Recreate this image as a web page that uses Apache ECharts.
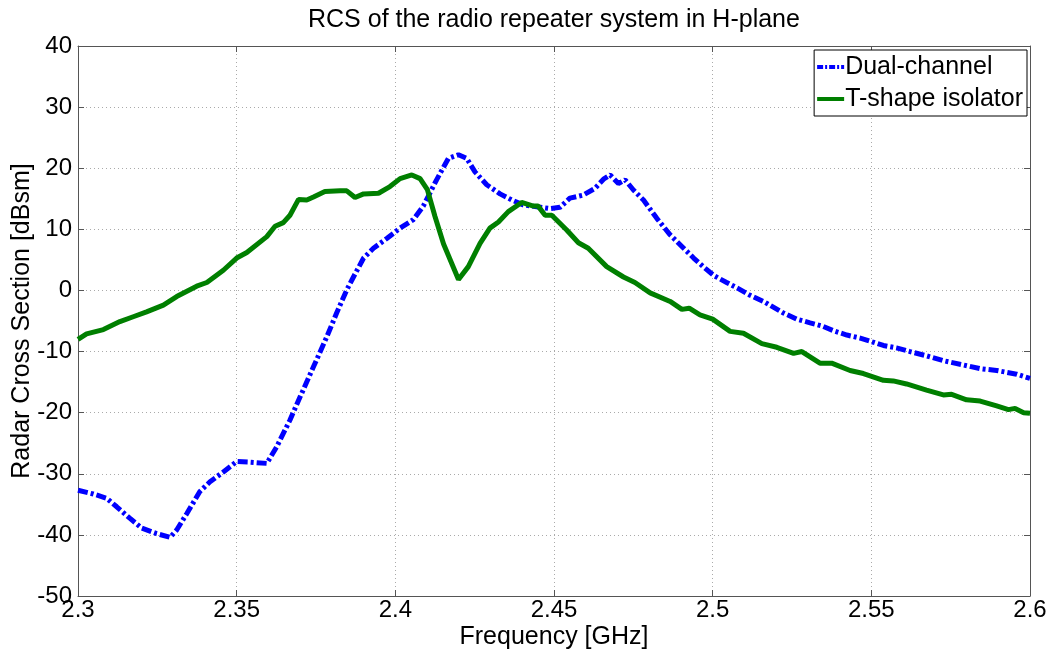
<!DOCTYPE html>
<html>
<head>
<meta charset="utf-8">
<title>RCS of the radio repeater system in H-plane</title>
<script src="https://cdn.jsdelivr.net/npm/echarts@6/dist/echarts.min.js"></script>
<style>
  html, body { margin: 0; padding: 0; background: #fff; }
  #chart { width: 1053px; height: 653px; }
</style>
</head>
<body>
<div id="chart"></div>
<script>
// Frequency sweep (GHz) and RCS (dBsm) for the dual-channel repeater
const freqDual = [
  2.300, 2.3048, 2.309, 2.3122, 2.3164, 2.3201, 2.3248, 2.329, 2.3311, 2.3343,
  2.3384, 2.3416, 2.3458, 2.350, 2.3542, 2.3595, 2.3626, 2.3668, 2.370, 2.3742,
  2.3784, 2.3815, 2.3847, 2.3868, 2.390, 2.3931, 2.3973, 2.4015, 2.4057, 2.4088,
  2.413, 2.4167, 2.4199, 2.4225, 2.4251, 2.4288, 2.433, 2.4367, 2.4403, 2.4445,
  2.4487, 2.4519, 2.455, 2.4592, 2.4629, 2.4656, 2.4677, 2.4703, 2.4724, 2.4751,
  2.4782, 2.4824, 2.4866, 2.4903, 2.494, 2.497, 2.5005, 2.5044, 2.5081, 2.5118,
  2.516, 2.5223, 2.5265, 2.5307, 2.5344, 2.5381, 2.5423, 2.5465, 2.5502, 2.5538,
  2.5579, 2.5622, 2.5674, 2.5727, 2.579, 2.5843, 2.5895, 2.5958, 2.600
];
const rcsDual = [
  -32.7, -33.3, -34.0, -35.4, -37.3, -38.9, -39.8, -40.4, -39.2, -36.5,
  -32.9, -31.3, -29.7, -28.0, -28.1, -28.3, -25.6, -21.2, -17.4, -12.5,
  -7.6, -3.7, 0.1, 2.2, 5.3, 6.9, 8.5, 10.2, 11.6, 13.8,
  18.1, 21.6, 22.2, 21.6, 19.4, 17.3, 15.8, 14.8, 14.0, 13.7,
  13.4, 13.6, 15.1, 15.6, 16.7, 18.2, 18.9, 17.5, 18.1, 16.4,
  14.8, 11.8, 9.1, 7.2, 5.3, 3.9, 2.4, 1.3, 0.3, -0.8,
  -1.8, -3.7, -4.7, -5.3, -5.8, -6.6, -7.3, -7.8, -8.4, -9.0,
  -9.4, -10.0, -10.7, -11.5, -12.2, -12.8, -13.1, -13.7, -14.4
];

// Frequency sweep (GHz) and RCS (dBsm) with the T-shape isolator
const freqIso = [
  2.300, 2.3027, 2.308, 2.3132, 2.3174, 2.3216, 2.3269, 2.3311, 2.3374, 2.3406,
  2.3458, 2.350, 2.3532, 2.3595, 2.3621, 2.3647, 2.3668, 2.3695, 2.3721, 2.3742,
  2.3778, 2.3826, 2.3847, 2.3873, 2.390, 2.3947, 2.3983, 2.4015, 2.4052, 2.4078,
  2.4101, 2.4125, 2.4152, 2.4199, 2.423, 2.4267, 2.4298, 2.4325, 2.4356, 2.4398,
  2.4435, 2.445, 2.4472, 2.4493, 2.454, 2.4577, 2.4608, 2.4666, 2.4719, 2.4755,
  2.4803, 2.4866, 2.4903, 2.4926, 2.496, 2.500, 2.5055, 2.5097, 2.5155, 2.5202,
  2.5255, 2.5281, 2.5338, 2.5375, 2.5433, 2.5475, 2.5538, 2.5569, 2.5611, 2.5674,
  2.5727, 2.5753, 2.580, 2.5843, 2.5895, 2.5932, 2.5953, 2.598, 2.600
];
const rcsIso = [
  -8.0, -7.1, -6.4, -5.1, -4.3, -3.5, -2.4, -1.0, 0.7, 1.3,
  3.3, 5.3, 6.2, 8.8, 10.5, 11.1, 12.3, 14.9, 14.8, 15.3,
  16.2, 16.3, 16.3, 15.2, 15.8, 15.9, 17.0, 18.3, 18.9, 18.3,
  16.5, 12.1, 7.6, 1.8, 3.9, 7.7, 10.2, 11.2, 12.9, 14.4,
  13.8, 13.8, 12.3, 12.3, 9.9, 7.8, 6.9, 3.9, 2.2, 1.3,
  -0.4, -1.8, -3.1, -2.9, -4.0, -4.7, -6.7, -7.0, -8.7, -9.3,
  -10.3, -10.0, -11.9, -11.9, -13.1, -13.6, -14.7, -14.8, -15.3, -16.3,
  -17.1, -17.0, -17.9, -18.1, -18.9, -19.5, -19.3, -20.0, -20.1
];

const seriesNames = ['Dual-channel', 'T-shape isolator'];
const xTicks = { min: 2.3, max: 2.6, step: 0.05 };
const yTicks = { min: -50, max: 40, step: 10 };

const zip = (xs, ys) => xs.map((x, i) => [x, ys[i]]);

const FONT = 'Liberation Sans, Arial, sans-serif';
const AXIS_COLOR = '#555';
const BLUE = '#0000ff';
const GREEN = '#007f00';

// legend swatches: dash-dot bar and solid bar
const DASH_DOT_ICON = 'path://M0 0h6v4H0z M8 0h2v4H8z M12 0h6v4h-6z M20 0h2v4h-2z M24 0h3v4h-3z';

function xAxisDef(pos, showLabels) {
  return {
    type: 'value',
    position: pos,
    min: xTicks.min, max: xTicks.max, interval: xTicks.step,
    name: showLabels ? 'Frequency [GHz]' : '',
    nameLocation: 'middle',
    nameGap: 29,
    nameMoveOverlap: false,
    nameTextStyle: { fontFamily: FONT, fontSize: 25, color: '#000' },
    axisLine: { show: true, onZero: false, lineStyle: { color: AXIS_COLOR, width: 1 } },
    axisTick: { show: true, inside: true, length: 6, lineStyle: { color: AXIS_COLOR } },
    axisLabel: {
      show: showLabels, margin: 2, color: '#000', fontFamily: FONT, fontSize: 24,
      formatter: v => String(Math.round(v * 100) / 100)
    },
    splitLine: showLabels
      ? { show: true, lineStyle: { color: '#aaa', type: [1, 3], width: 1 } }
      : { show: false }
  };
}

function yAxisDef(pos, showLabels) {
  return {
    type: 'value',
    position: pos,
    min: yTicks.min, max: yTicks.max, interval: yTicks.step,
    name: showLabels ? 'Radar Cross Section [dBsm]' : '',
    nameLocation: 'middle',
    nameGap: 43,
    nameRotate: 90,
    nameMoveOverlap: false,
    nameTextStyle: { fontFamily: FONT, fontSize: 25, color: '#000' },
    axisLine: { show: true, onZero: false, lineStyle: { color: AXIS_COLOR, width: 1 } },
    axisTick: { show: true, inside: true, length: 6, lineStyle: { color: AXIS_COLOR } },
    axisLabel: { show: showLabels, margin: 6, color: '#000', fontFamily: FONT, fontSize: 24 },
    splitLine: showLabels
      ? { show: true, lineStyle: { color: '#aaa', type: [1, 3], width: 1 } }
      : { show: false }
  };
}

const chart = echarts.init(document.getElementById('chart'), null, { renderer: 'canvas' });

chart.setOption({
  backgroundColor: '#fff',
  animation: false,
  title: {
    text: 'RCS of the radio repeater system in H-plane',
    left: 303,
    top: 3,
    textStyle: { fontFamily: FONT, fontSize: 25, fontWeight: 'normal', color: '#000' }
  },
  legend: {
    data: [
      { name: seriesNames[0], icon: DASH_DOT_ICON, itemStyle: { color: BLUE } },
      { name: seriesNames[1], icon: 'rect', itemStyle: { color: GREEN } }
    ],
    orient: 'vertical',
    right: 26,
    top: 50,
    backgroundColor: '#fff',
    borderColor: '#000',
    borderWidth: 1,
    padding: [3, 4, 3, 3],
    itemGap: 4,
    itemWidth: 27,
    itemHeight: 4,
    textStyle: { fontFamily: FONT, fontSize: 25, color: '#000', padding: [0, 0, 0, -4], lineHeight: 28 }
  },
  grid: {
    left: 78, right: 23, top: 46, bottom: 57,
    containLabel: false,
    outerBoundsMode: 'none'
  },
  xAxis: [xAxisDef('bottom', true), xAxisDef('top', false)],
  yAxis: [yAxisDef('left', true), yAxisDef('right', false)],
  series: [
    {
      name: seriesNames[0],
      type: 'line',
      data: zip(freqDual, rcsDual),
      showSymbol: false,
      symbol: 'none',
      lineStyle: { color: BLUE, width: 5, type: [10, 3, 3, 3] },
      itemStyle: { color: BLUE },
      z: 3
    },
    {
      name: seriesNames[1],
      type: 'line',
      data: zip(freqIso, rcsIso),
      showSymbol: false,
      symbol: 'none',
      lineStyle: { color: GREEN, width: 5 },
      itemStyle: { color: GREEN },
      z: 4
    }
  ]
});
</script>
</body>
</html>
